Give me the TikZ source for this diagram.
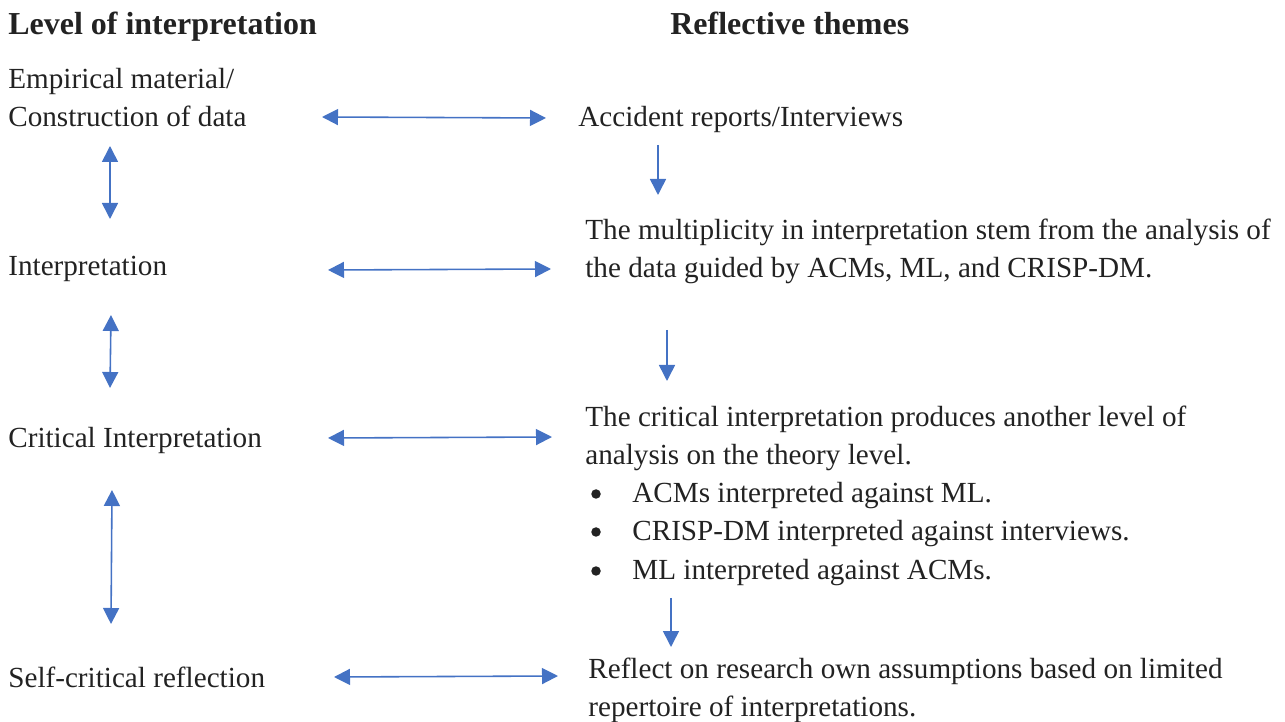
\documentclass[tikz,border=0pt]{standalone}
\usepackage{fontspec}
\setmainfont{Liberation Serif}
\usetikzlibrary{arrows.meta}
\definecolor{arrblue}{HTML}{4472C4}
\definecolor{inkgray}{HTML}{222222}
\tikzset{
    lbl/.style={anchor=base west, inner sep=0pt, text=inkgray, font=\fontsize{16.6}{21.6}\selectfont},
    hdr/.style={lbl, font=\fontsize{18.2}{21.6}\selectfont\bfseries},
    dot/.style={circle, fill=inkgray, inner sep=0pt, minimum size=0.19cm},
    dbl/.style={draw=arrblue, line width=0.9pt, {Triangle[length=0.32cm,width=0.32cm]}-{Triangle[length=0.32cm,width=0.32cm]}},
    sgl/.style={draw=arrblue, line width=0.9pt, -{Triangle[length=0.32cm,width=0.32cm]}}
}
\begin{document}
\begin{tikzpicture}[x=0.02cm,y=-0.02cm]
    \useasboundingbox (0,0) rectangle (1285,722);
    % column headings
    \node[hdr] (levhead) at (8,35) {Level of interpretation};
    \node[hdr] (themehead) at (670,35) {Reflective themes};
    % levels
    \node[lbl] (emp1) at (8,89) {Empirical material/};
    \node[lbl] (emp2) at (8,127) {Construction of data};
    \node[lbl] (interp) at (8,276) {Interpretation};
    \node[lbl] (crit) at (8,448) {Critical Interpretation};
    \node[lbl] (self) at (8,687) {Self-critical reflection};
    % themes
    \node[lbl] (acc) at (578,127) {Accident reports/Interviews};
    \node[lbl] (mult1) at (585,240) {The multiplicity in interpretation stem from the analysis of};
    \node[lbl] (mult2) at (585,278) {the data guided by ACMs, ML, and CRISP-DM.};
    \node[lbl] (crit1) at (585,427) {The critical interpretation produces another level of};
    \node[lbl] (crit2) at (585,465) {analysis on the theory level.};
    \node[dot] (b1) at (596,494) {};
    \node[lbl] (item1) at (632,503) {ACMs interpreted against ML.};
    \node[dot] (b2) at (596,532) {};
    \node[lbl] (item2) at (632,541) {CRISP-DM interpreted against interviews.};
    \node[dot] (b3) at (596,571) {};
    \node[lbl] (item3) at (632,580) {ML interpreted against ACMs.};
    \node[lbl] (refl1) at (588,679) {Reflect on research own assumptions based on limited};
    \node[lbl] (refl2) at (588,716.5) {repertoire of interpretations.};
    % arrow ends
    \coordinate (h1a) at (322,117); \coordinate (h1b) at (546,118);
    \coordinate (h2a) at (328,270); \coordinate (h2b) at (551,269);
    \coordinate (h3a) at (328,438); \coordinate (h3b) at (552,437);
    \coordinate (h4a) at (334,677); \coordinate (h4b) at (558,676);
    \coordinate (v1a) at (110,146); \coordinate (v1b) at (110,219);
    \coordinate (v2a) at (111,315); \coordinate (v2b) at (110,388);
    \coordinate (v3a) at (112,490); \coordinate (v3b) at (111,624);
    \coordinate (d1a) at (658,145); \coordinate (d1b) at (658,195);
    \coordinate (d2a) at (667,330); \coordinate (d2b) at (667,381);
    \coordinate (d3a) at (671,598); \coordinate (d3b) at (671,647);
    % arrows
    \draw[dbl] (h1a) -- (h1b);
    \draw[dbl] (h2a) -- (h2b);
    \draw[dbl] (h3a) -- (h3b);
    \draw[dbl] (h4a) -- (h4b);
    \draw[dbl] (v1a) -- (v1b);
    \draw[dbl] (v2a) -- (v2b);
    \draw[dbl] (v3a) -- (v3b);
    \draw[sgl] (d1a) -- (d1b);
    \draw[sgl] (d2a) -- (d2b);
    \draw[sgl] (d3a) -- (d3b);
\end{tikzpicture}
\end{document}
